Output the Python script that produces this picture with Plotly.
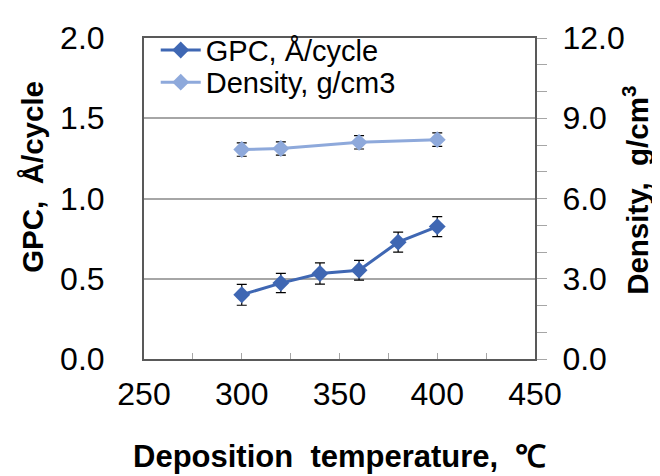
import plotly.graph_objects as go

temp_gpc = [300, 320, 340, 360, 380, 400]
gpc = [0.40, 0.473, 0.533, 0.553, 0.728, 0.825]
gpc_err = [0.065, 0.06, 0.066, 0.062, 0.062, 0.062]

temp_den = [300, 320, 360, 400]
density = [7.83, 7.87, 8.10, 8.20]
den_err = [0.25, 0.25, 0.25, 0.25]

x_ticks = [250, 300, 350, 400, 450]
y1_ticks = [0.0, 0.5, 1.0, 1.5, 2.0]
y2_ticks = [0.0, 3.0, 6.0, 9.0, 12.0]

FONT = "Arial, Liberation Sans, sans-serif"
C_GPC = "#3F67B3"
C_DEN = "#8EA9DB"
AXC = "#595959"
GRID = "#A6A6A6"

fig = go.Figure()
fig.add_trace(go.Scatter(
    x=temp_gpc, y=gpc, name="GPC, Å/cycle", mode="lines+markers",
    line=dict(color=C_GPC, width=3),
    marker=dict(symbol="diamond", size=13, color=C_GPC),
    error_y=dict(type="data", array=gpc_err, color="black", thickness=1.2, width=5),
    yaxis="y", legend="legend",
))
fig.add_trace(go.Scatter(
    x=temp_den, y=density, name="Density, g/cm3", mode="lines+markers",
    line=dict(color=C_DEN, width=3),
    marker=dict(symbol="diamond", size=13, color=C_DEN),
    error_y=dict(type="data", array=den_err, color="black", thickness=1.2, width=5),
    yaxis="y2", legend="legend2",
))

leg_common = dict(xanchor="left", yanchor="middle", bgcolor="rgba(0,0,0,0)",
                  font=dict(size=29, family=FONT), itemwidth=40)

fig.update_layout(
    width=652, height=468,
    margin=dict(l=136, r=125, t=20, b=117),
    paper_bgcolor="white", plot_bgcolor="white",
    font=dict(family=FONT, size=32, color="black"),
    showlegend=True,
    legend=dict(x=0.03, y=0.962, **leg_common),
    legend2=dict(x=0.03, y=0.862, **leg_common),
    xaxis=dict(range=[250, 450], tickvals=x_ticks, ticktext=[str(v) for v in x_ticks],
               ticks="inside", ticklen=6, tickcolor=GRID, tickwidth=1,
               minor=dict(dtick=25, tick0=250, ticks="inside", ticklen=6, tickcolor=GRID),
               showline=True, linecolor=AXC, linewidth=2, mirror=True,
               showgrid=False, zeroline=False, ticklabelstandoff=6,
               tickfont=dict(size=32)),
    yaxis=dict(range=[0, 2], tickvals=y1_ticks, ticktext=[f"{v:.1f}" for v in y1_ticks],
               ticks="", showline=True, linecolor=AXC, linewidth=2,
               showgrid=True, gridcolor=GRID, gridwidth=1.5, zeroline=False,
               ticklabelstandoff=31, tickfont=dict(size=32)),
    yaxis2=dict(range=[0, 12], tickvals=y2_ticks, ticktext=[f"{v:.1f}" for v in y2_ticks],
                overlaying="y", side="right",
                ticks="outside", ticklen=10, tickcolor=GRID, tickwidth=1,
                minor=dict(dtick=1, tick0=0, ticks="outside", ticklen=10, tickcolor=GRID),
                showline=True, linecolor=AXC, linewidth=2,
                showgrid=False, zeroline=False, ticklabelstandoff=9,
                tickfont=dict(size=32)),
    annotations=[
        dict(text="<b>Deposition  temperature,  ℃</b>", xref="paper", yref="paper",
             x=0.5, y=-0.305, xanchor="center", yanchor="middle", showarrow=False,
             font=dict(size=31, family=FONT)),
        dict(text="<b>GPC,  Å/cycle</b>", xref="paper", yref="paper",
             x=-0.286, y=0.568, xanchor="center", yanchor="middle", showarrow=False,
             textangle=-90, font=dict(size=29.5, family=FONT)),
        dict(text="<b>Density,  g/cm<sup>3</sup></b>", xref="paper", yref="paper",
             x=1.255, y=0.526, xanchor="center", yanchor="middle", showarrow=False,
             textangle=-90, font=dict(size=29.5, family=FONT)),
    ],
)

fig.write_html("out.html")
